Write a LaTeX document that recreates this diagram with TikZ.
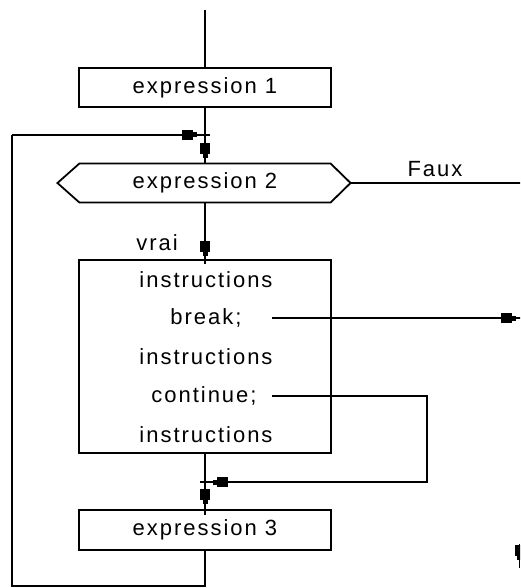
\documentclass[tikz,border=0pt]{standalone}
\usepackage{fontspec}
\setmainfont{Liberation Sans}[LetterSpace=9]
\usetikzlibrary{arrows.meta,calc}
\begin{document}
\begin{tikzpicture}[x=1pt,y=-1pt,
  line width=1.1pt,
  txt/.style={font=\fontsize{22}{25}\selectfont},
  box/.style={draw, txt, minimum width=252pt, inner sep=0pt},
  lbl/.style={txt, inner sep=0pt},
  blk/.style={-{Rectangle[length=11pt,width=10pt,sep=0pt]Rectangle[length=4pt,width=5pt]}},
]
\useasboundingbox (0,0) rectangle (520,588);
\clip (0,0) rectangle (520,588);

% --- boxes of the loop
\node[box, minimum height=39pt] (e1) at (205,87.5) {expression 1};
\node[lbl, minimum width=250pt, minimum height=38pt] (e2) at (205,183) {expression 2};
\coordinate (e2left) at ($(e2.west)+(-22,0)$);
\coordinate (e2tip) at ($(e2.east)+(20,0)$);
\draw[line width=1.8pt, line join=miter]
  (e2left) -- (e2.north west) -- (e2.north east) -- (e2tip)
  -- (e2.south east) -- (e2.south west) -- cycle;
\node[box, minimum height=193pt] (body) at (205,356.5) {};
\node[lbl] (i1) at (206,280) {instructions};
\node[lbl] (brk) at (206,318) {break;};
\node[lbl] (i2) at (206,357) {instructions};
\node[lbl] (cont) at (204,396) {continue;};
\node[lbl] (i3) at (206,435) {instructions};
\node[box, minimum height=40pt] (e3) at (205,530) {expression 3};

% --- labels
\node[lbl] (faux) at (435,169) {Faux};
\node[lbl] (vrai) at (157,243) {vrai};

% --- helper points
\coordinate (start) at (205,10);
\coordinate (j1) at (205,135);
\coordinate (tick1) at (210,135);
\coordinate (lt) at (12,135);
\coordinate (lb) at (12,586);
\coordinate (fauxend) at (530,183);
\coordinate (brkout) at (272,318);
\coordinate (brkend) at (530,318);
\coordinate (contout) at (272,396);
\coordinate (cr) at (427,396);
\coordinate (crb) at (427,482);
\coordinate (j2) at (205,482);
\coordinate (tick2) at (200,482);
\coordinate (fragtop) at (519.5,544);
\coordinate (fragbot) at (519.5,568);

% --- connectors
\draw (start) -- (e1.north);
\draw (e1.south) -- (e2.north);
\draw[blk, shorten >=5pt] (j1) -- (e2.north);
\draw (lt) -- (tick1);
\draw[blk, shorten >=8pt] (lt) -- (j1);
\draw (e3.south) -- (e3.south |- lb) -- (lb) -- (lt);
\draw (e2tip) -- (fauxend);
\draw (e2.south) -- ($(body.north)+(0,5)$);
\draw[blk, shorten >=3pt] (e2.south) -- (body.north);
\draw (brkout) -- (brkend);
\draw[blk, shorten >=14pt] (brkout) -- (brkend);
\draw (contout) -- (cr) -- (crb) -- (tick2);
\draw[blk, shorten >=8pt] (crb) -- (j2);
\draw (body.south) -- ($(e3.north)+(0,6)$);
\draw[blk, shorten >=5pt] (body.south) -- (e3.north);
\draw[blk, shorten >=8pt] (fragtop) -- (fragbot);
\draw ($(fragbot)+(0,-8)$) -- (fragbot);
\end{tikzpicture}
\end{document}
